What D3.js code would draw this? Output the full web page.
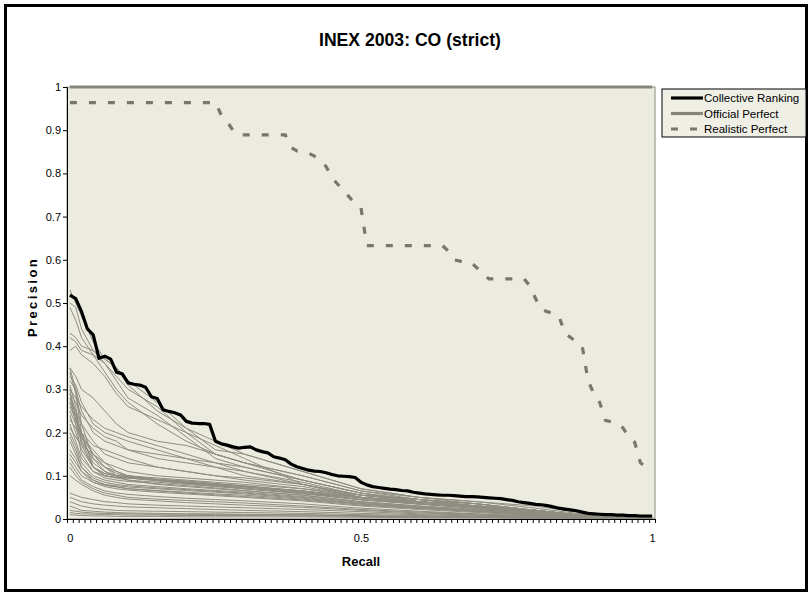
<!DOCTYPE html>
<html>
<head>
<meta charset="utf-8">
<script src="https://cdn.jsdelivr.net/npm/d3@7"></script>
<style>
  html, body { margin: 0; padding: 0; background: #fff; }
  svg { display: block; font-family: "Liberation Sans", Arial, sans-serif; }
</style>
</head>
<body>
<svg id="chart" width="810" height="592"></svg>
<script>
// recall categories 0.00 .. 1.00 (Excel category axis, 101 points)
var recallLabels = ["0", "0.5", "1"];
var yTicks = [0, 0.1, 0.2, 0.3, 0.4, 0.5, 0.6, 0.7, 0.8, 0.9, 1];

// Collective Ranking, one value per recall step of 0.01
var collective = [
  0.518, 0.51, 0.48, 0.44, 0.426, 0.372, 0.377, 0.37, 0.34, 0.336,
  0.315, 0.312, 0.31, 0.305, 0.283, 0.279, 0.253, 0.249, 0.246, 0.241,
  0.226, 0.222, 0.221, 0.221, 0.219, 0.18, 0.174, 0.171, 0.167, 0.164,
  0.166, 0.167, 0.16, 0.156, 0.153, 0.144, 0.141, 0.137, 0.127, 0.121,
  0.117, 0.113, 0.111, 0.11, 0.107, 0.103, 0.1, 0.099, 0.098, 0.096,
  0.085, 0.079, 0.075, 0.073, 0.071, 0.069, 0.068, 0.066, 0.065, 0.062,
  0.06, 0.058, 0.057, 0.056, 0.055, 0.055, 0.054, 0.053, 0.052, 0.052,
  0.051, 0.05, 0.049, 0.048, 0.047, 0.045, 0.043, 0.04, 0.038, 0.036,
  0.034, 0.033, 0.031, 0.028, 0.025, 0.023, 0.021, 0.019, 0.016, 0.013,
  0.012, 0.011, 0.01, 0.01, 0.009, 0.009, 0.008, 0.008, 0.007, 0.007,
  0.007
];

// Official Perfect
var officialPerfect = [
  1, 1, 1, 1, 1, 1, 1, 1, 1, 1, 1, 1, 1, 1, 1, 1, 1, 1, 1, 1,
  1, 1, 1, 1, 1, 1, 1, 1, 1, 1, 1, 1, 1, 1, 1, 1, 1, 1, 1, 1,
  1, 1, 1, 1, 1, 1, 1, 1, 1, 1, 1, 1, 1, 1, 1, 1, 1, 1, 1, 1,
  1, 1, 1, 1, 1, 1, 1, 1, 1, 1, 1, 1, 1, 1, 1, 1, 1, 1, 1, 1,
  1, 1, 1, 1, 1, 1, 1, 1, 1, 1, 1, 1, 1, 1, 1, 1, 1, 1, 1, 1,
  1
];

// Realistic Perfect
var realisticPerfect = [
  0.964, 0.964, 0.964, 0.964, 0.964, 0.964, 0.964, 0.964, 0.964, 0.964,
  0.964, 0.964, 0.964, 0.964, 0.964, 0.964, 0.964, 0.964, 0.964, 0.964,
  0.964, 0.964, 0.964, 0.964, 0.964, 0.964, 0.935, 0.92, 0.9, 0.889,
  0.889, 0.889, 0.889, 0.889, 0.889, 0.889, 0.889, 0.889, 0.86, 0.852,
  0.85, 0.847, 0.84, 0.83, 0.816, 0.79, 0.775, 0.76, 0.745, 0.73,
  0.72, 0.633, 0.633, 0.633, 0.633, 0.633, 0.633, 0.633, 0.633, 0.633,
  0.633, 0.633, 0.633, 0.633, 0.633, 0.62, 0.6, 0.597, 0.594, 0.593,
  0.58, 0.565, 0.556, 0.556, 0.556, 0.556, 0.556, 0.556, 0.556, 0.54,
  0.51, 0.485, 0.48, 0.476, 0.47, 0.43, 0.42, 0.41, 0.4, 0.32,
  0.29, 0.27, 0.228, 0.225, 0.22, 0.211, 0.19, 0.178, 0.13, 0.12,
  0.11
];

// individual submitted runs, sampled at these recall steps (index = recall*100)
var runSteps = [0, 1, 2, 4, 6, 8, 10, 15, 20, 25, 30, 40, 50, 60, 70, 80, 90, 100];
var runs = [
  [.53,.50,.47,.41,.37,.35,.32,.27,.21,.16,.15,.11,.07,.05,.04,.025,.008,.004],
  [.50,.49,.44,.39,.36,.33,.30,.26,.20,.15,.13,.10,.065,.045,.035,.02,.006,.003],
  [.49,.46,.42,.38,.36,.32,.28,.24,.19,.14,.12,.09,.06,.04,.03,.018,.005,.003],
  [.43,.42,.40,.39,.37,.35,.31,.25,.21,.18,.15,.11,.07,.05,.035,.02,.006,.003],
  [.42,.41,.39,.38,.34,.30,.27,.22,.18,.15,.13,.10,.065,.05,.04,.03,.01,.004],
  [.39,.40,.38,.36,.33,.29,.26,.23,.20,.17,.14,.08,.05,.035,.025,.015,.004,.002],
  [.35,.33,.30,.28,.25,.22,.20,.18,.17,.15,.13,.09,.06,.04,.03,.02,.005,.002],
  [.33,.31,.27,.22,.20,.19,.18,.16,.14,.12,.11,.08,.055,.04,.03,.02,.005,.002],
  [.32,.30,.25,.20,.18,.17,.16,.15,.14,.13,.12,.09,.06,.045,.035,.02,.006,.002],
  [.30,.28,.26,.23,.21,.20,.19,.17,.15,.13,.11,.085,.055,.045,.03,.02,.005,.002],
  [.29,.27,.24,.21,.19,.18,.16,.14,.13,.12,.10,.08,.05,.035,.025,.015,.004,.002],
  [.28,.25,.22,.18,.15,.14,.13,.12,.11,.10,.095,.08,.055,.045,.03,.018,.005,.002],
  [.27,.24,.20,.17,.16,.15,.14,.12,.11,.10,.09,.075,.05,.04,.03,.02,.006,.002],
  [.26,.23,.19,.15,.13,.12,.11,.10,.095,.09,.085,.07,.05,.04,.028,.018,.005,.002],
  [.35,.30,.22,.14,.11,.10,.10,.095,.09,.085,.08,.07,.055,.045,.035,.02,.006,.002],
  [.34,.29,.20,.12,.10,.095,.095,.09,.085,.08,.075,.065,.05,.04,.03,.02,.005,.002],
  [.31,.26,.18,.12,.105,.10,.098,.092,.088,.082,.077,.065,.05,.04,.03,.018,.005,.002],
  [.30,.22,.15,.11,.10,.097,.095,.09,.085,.08,.074,.062,.045,.036,.028,.017,.005,.002],
  [.29,.25,.19,.13,.11,.10,.097,.09,.083,.078,.072,.06,.045,.035,.026,.015,.004,.002],
  [.28,.24,.17,.12,.105,.10,.095,.088,.082,.076,.07,.06,.05,.04,.03,.02,.006,.002],
  [.27,.23,.20,.15,.12,.11,.10,.09,.085,.08,.075,.065,.05,.04,.03,.02,.005,.002],
  [.25,.22,.18,.14,.12,.105,.10,.092,.087,.082,.076,.064,.048,.038,.028,.018,.005,.002],
  [.24,.20,.16,.12,.10,.095,.09,.085,.08,.075,.07,.058,.044,.034,.025,.015,.004,.002],
  [.23,.21,.19,.16,.13,.11,.10,.09,.083,.077,.07,.06,.045,.035,.027,.016,.004,.002],
  [.22,.18,.14,.11,.095,.09,.087,.082,.077,.072,.066,.055,.04,.03,.022,.013,.004,.001],
  [.21,.19,.17,.15,.12,.10,.09,.08,.075,.07,.065,.055,.04,.03,.022,.013,.004,.001],
  [.20,.17,.13,.10,.09,.085,.08,.075,.07,.066,.062,.052,.038,.028,.02,.012,.003,.001],
  [.19,.16,.12,.095,.085,.08,.077,.072,.068,.064,.06,.05,.036,.027,.019,.011,.003,.001],
  [.18,.15,.12,.09,.08,.077,.074,.07,.066,.062,.058,.048,.035,.026,.018,.01,.003,.001],
  [.16,.14,.11,.085,.078,.074,.07,.066,.062,.058,.055,.046,.034,.025,.018,.01,.003,.001],
  [.15,.13,.11,.09,.08,.075,.07,.065,.06,.056,.052,.044,.032,.024,.017,.009,.003,.001],
  [.14,.12,.10,.085,.075,.07,.067,.062,.058,.054,.05,.042,.03,.022,.015,.008,.002,.001],
  [.13,.11,.09,.075,.065,.06,.057,.052,.048,.045,.042,.035,.025,.018,.012,.007,.002,.001],
  [.12,.10,.085,.07,.06,.055,.05,.046,.043,.04,.037,.03,.022,.016,.011,.006,.002,.001],
  [.10,.09,.08,.065,.055,.05,.046,.042,.038,.035,.032,.027,.02,.014,.01,.005,.002,.001],
  [.06,.055,.05,.045,.04,.038,.035,.032,.03,.028,.026,.022,.017,.012,.009,.005,.002,.001],
  [.05,.045,.04,.035,.032,.03,.028,.026,.024,.022,.02,.017,.013,.01,.007,.004,.001,.001],
  [.04,.035,.03,.025,.022,.02,.019,.018,.017,.016,.015,.013,.01,.008,.006,.003,.001,.001],
  [.03,.025,.02,.018,.016,.015,.014,.013,.012,.012,.011,.01,.008,.006,.005,.003,.001,.001],
  [.02,.018,.016,.014,.013,.012,.012,.011,.011,.01,.01,.009,.007,.005,.004,.002,.001,.001],
  [.015,.013,.012,.011,.01,.01,.009,.009,.008,.008,.008,.007,.006,.005,.004,.002,.001,.001],
  [.01,.009,.008,.007,.007,.006,.006,.006,.005,.005,.005,.005,.004,.003,.003,.002,.001,.001]
];

var legendItems = ["Collective Ranking", "Official Perfect", "Realistic Perfect"];

//------------------------------------------------------------------
var svg = d3.select("#chart");
var plotL = 67, plotR = 655, plotT = 87, plotB = 519;
var steps = d3.range(collective.length);

var x = d3.scalePoint().domain(steps).range([plotL, plotR]).padding(0.5);
var xEdge = d3.scaleLinear().domain([0, steps.length]).range([plotL, plotR]);
var y = d3.scaleLinear().domain([0, 1]).range([plotB, plotT]);

var greyRun = "#8f8d82";

// outer frame
svg.append("rect")
  .attr("x", 5.5).attr("y", 5.5)
  .attr("width", 801).attr("height", 585)
  .attr("fill", "#fff")
  .attr("stroke", "#000")
  .attr("stroke-width", 3);

// plot area
svg.append("rect")
  .attr("x", plotL).attr("y", plotT)
  .attr("width", plotR - plotL).attr("height", plotB - plotT)
  .attr("fill", "#ebebdf")
  .attr("stroke", "#8a8a80")
  .attr("stroke-width", 1);

var line = d3.line()
  .x(function(d) { return x(d[0]); })
  .y(function(d) { return y(d[1]); });

var plot = svg.append("g");

plot.selectAll(".run")
  .data(runs)
.enter().append("path")
  .attr("class", "run")
  .attr("d", function(r) { return line(r.map(function(v, i) { return [runSteps[i], v]; })); })
  .attr("fill", "none")
  .attr("stroke", greyRun)
  .attr("stroke-width", 1);

function pairs(arr) { return arr.map(function(v, i) { return [steps[i], v]; }); }

plot.append("path")
  .attr("d", line(pairs(officialPerfect)))
  .attr("fill", "none")
  .attr("stroke", "#858579")
  .attr("stroke-width", 3);

plot.append("path")
  .attr("d", line(pairs(realisticPerfect)))
  .attr("fill", "none")
  .attr("stroke", "#77776b")
  .attr("stroke-width", 3.2)
  .attr("stroke-dasharray", "7,12");

plot.append("path")
  .attr("d", line(pairs(collective)))
  .attr("fill", "none")
  .attr("stroke", "#000")
  .attr("stroke-width", 3.2)
  .attr("stroke-linejoin", "round");

// axes
var yAxis = svg.append("g")
  .attr("transform", "translate(" + plotL + ",0)")
  .call(d3.axisLeft(y).tickValues(yTicks).tickSize(4).tickSizeOuter(0)
    .tickFormat(function(d) { return d3.format("~r")(+d.toFixed(1)); }));

var xTicks = svg.append("g")
  .attr("transform", "translate(0," + plotB + ")")
  .call(d3.axisBottom(xEdge).tickValues(d3.range(steps.length + 1)).tickSize(4).tickSizeOuter(0).tickFormat(""));

var xLabels = svg.append("g")
  .attr("transform", "translate(0," + plotB + ")")
  .call(d3.axisBottom(x).tickValues([0, 50, 100]).tickSize(0).tickPadding(15)
    .tickFormat(function(d, i) { return recallLabels[i]; }));
xLabels.select(".domain").remove();

svg.selectAll(".tick text")
  .attr("font-family", "Liberation Sans, Arial, sans-serif")
  .attr("font-size", 11)
  .attr("fill", "#000");
yAxis.selectAll(".tick text").attr("x", -6);
svg.selectAll(".domain, .tick line").attr("stroke", "#000");

// titles
svg.append("text")
  .attr("x", 410).attr("y", 46)
  .attr("text-anchor", "middle")
  .attr("font-size", 19).attr("font-weight", "bold")
  .attr("textLength", 182).attr("lengthAdjust", "spacingAndGlyphs")
  .text("INEX 2003: CO (strict)");

svg.append("text")
  .attr("x", 361).attr("y", 566)
  .attr("text-anchor", "middle")
  .attr("font-size", 13).attr("font-weight", "bold")
  .text("Recall");

svg.append("text")
  .attr("transform", "translate(37,297) rotate(-90)")
  .attr("text-anchor", "middle")
  .attr("font-size", 13).attr("font-weight", "bold")
  .attr("letter-spacing", 2.4)
  .text("Precision");

// legend
var lg = svg.append("g").attr("transform", "translate(662,89)");
lg.append("rect")
  .attr("width", 144).attr("height", 48)
  .attr("fill", "#efefe6")
  .attr("stroke", "#000")
  .attr("stroke-width", 1);

var styles = [
  { stroke: "#000", dash: null },
  { stroke: "#858579", dash: null },
  { stroke: "#77776b", dash: "7,12" }
];
var item = lg.selectAll(".item")
  .data(legendItems)
.enter().append("g")
  .attr("transform", function(d, i) { return "translate(0," + (9 + i * 15.5) + ")"; });
item.append("line")
  .attr("x1", 9).attr("x2", 41)
  .attr("stroke", function(d, i) { return styles[i].stroke; })
  .attr("stroke-width", 3.2)
  .attr("stroke-dasharray", function(d, i) { return styles[i].dash; });
item.append("text")
  .attr("x", 42).attr("y", 4)
  .attr("font-size", 11.5)
  .text(function(d) { return d; });
</script>
</body>
</html>
